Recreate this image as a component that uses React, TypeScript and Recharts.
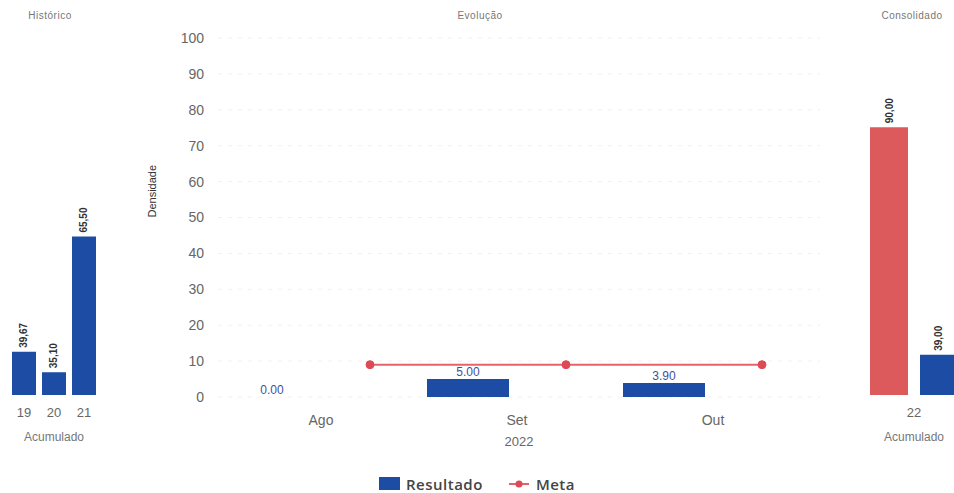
import { BarChart, Bar, ComposedChart, Line, XAxis, YAxis, CartesianGrid, Legend, LabelList } from 'recharts';

const histCats = ['19', '20', '21'];
const histValues = [39.67, 35.1, 65.5];

const months = ['Ago', 'Set', 'Out'];
const resultado = [0, 5.0, 3.9];
const meta = [9, 9, 9];
const yTicks = [0, 10, 20, 30, 40, 50, 60, 70, 80, 90, 100];

const consCats = ['22'];
const consMeta = [90];
const consResultado = [39];

const BLUE = '#1c4ca3';
const RED = '#dc5a5c';
const FONT = '"Liberation Sans", Arial, sans-serif';

const histData = histCats.map((cat, i) => ({ cat, value: histValues[i] }));
const evoData = months.map((mes, i) => ({ mes, resultado: resultado[i], meta: meta[i], pos: i + 0.75 }));
const consData = consCats.map((cat, i) => ({ cat, meta: consMeta[i], resultado: consResultado[i] }));

const comma = (v: number) => v.toFixed(2).replace('.', ',');

// rotated bold value above the bar (Histórico / Consolidado)
const RotLabel = (props: any) => {
    const { x, y, width, value } = props;
    const cx = x + width / 2;
    const cy = y - 4;
    return (
        <text x={cx} y={cy} transform={`rotate(-90 ${cx} ${cy})`} textAnchor="start" dominantBaseline="central"
            fontSize={10} fontWeight="bold" fill="#333">{comma(value)}</text>
    );
};

// value on top of the Resultado bars, drawn even when the bar is 0
const TopLabel = (props: any) => {
    const { x, y, width, value } = props;
    return (
        <text x={Number(x) + Number(width) / 2} y={Number(y) - 3} textAnchor="middle" fontSize={12} fill="#3f4f9f">
            {Number(value).toFixed(2)}
        </text>
    );
};

const EvoLegend = () => (
    <div style={{ display: 'flex', justifyContent: 'center', alignItems: 'center', gap: 26, paddingTop: 25, height: 44, boxSizing: 'border-box', fontFamily: '"Open Sans", sans-serif', fontSize: 15, letterSpacing: 0.5, fontWeight: 600, color: '#444' }}>
        <span style={{ display: 'flex', alignItems: 'center', gap: 6 }}>
            <span style={{ width: 21, height: 13, background: BLUE, display: 'inline-block' }} />Resultado
        </span>
        <span style={{ display: 'flex', alignItems: 'center', gap: 7 }}>
            <svg width={20} height={10}>
                <line x1={0} y1={5} x2={20} y2={5} stroke="#e4636b" strokeWidth={2} />
                <circle cx={10} cy={5} r={3.5} fill="#dc4a55" />
            </svg>Meta
        </span>
    </div>
);

const titleStyle = { position: 'absolute' as const, top: 10, fontSize: 10, letterSpacing: 0.5, color: '#777', transform: 'translateX(-50%)', whiteSpace: 'nowrap' as const };

export default function App() {
    return (
        <div style={{ position: 'absolute', left: 0, top: 0, width: 954, height: 493, overflow: 'hidden', background: '#fff', fontFamily: FONT }}>
            {/* ── Evolução ── */}
            <div style={{ position: 'absolute', left: 0, top: 0 }}>
                <ComposedChart width={954} height={493} data={evoData} margin={{ top: 38, right: 134, left: 0, bottom: 0 }} barCategoryGap={8} barGap={17}>
                    <CartesianGrid xAxisId="cat" vertical={false} stroke="#f0f0f0" strokeDasharray="4 6" />
                    <XAxis xAxisId="cat" dataKey="mes" height={52} padding={{ left: 5, right: 9 }} tickLine={false} axisLine={false} tickMargin={12}
                        tick={{ fontSize: 14, fill: '#666' }}
                        label={{ value: '2022', position: 'insideBottom', offset: 3, fontSize: 13, fill: '#666' }} />
                    <XAxis xAxisId="num" type="number" dataKey="pos" domain={[0, 3]} allowDataOverflow hide padding={{ left: 5, right: 9 }} />
                    <YAxis width={218} domain={[0, 100]} ticks={yTicks} tickLine={false} axisLine={false} tickMargin={8}
                        tick={{ fontSize: 14, fill: '#666' }}
                        label={{ value: 'Densidade', angle: -90, position: 'insideLeft', offset: 152, fontSize: 11, fill: '#333' }} />
                    <Bar xAxisId="cat" dataKey="resultado" fill={BLUE} minPointSize={0.01} isAnimationActive={false}>
                        <LabelList dataKey="resultado" content={<TopLabel />} />
                    </Bar>
                    <Bar xAxisId="cat" dataKey="meta" fill="transparent" legendType="none" isAnimationActive={false} />
                    <Line xAxisId="num" dataKey="meta" stroke="#e4636b" strokeWidth={2} dot={{ r: 4, fill: '#dc4a55', stroke: '#dc4a55', strokeWidth: 1 }} isAnimationActive={false} />
                    <Legend verticalAlign="bottom" height={44} width={954} wrapperStyle={{ left: 0 }} content={<EvoLegend />} />
                </ComposedChart>
            </div>
            <div style={{ ...titleStyle, left: 480 }}>Evolução</div>

            {/* ── Histórico ── */}
            <div style={{ position: 'absolute', left: 0, top: 0 }}>
                <BarChart width={110} height={460} data={histData} margin={{ top: 38, right: 11, left: 9, bottom: 0 }} barCategoryGap={3}>
                    <XAxis dataKey="cat" height={65} tickLine={false} axisLine={false} tickMargin={7} tick={{ fontSize: 13, fill: '#666' }}
                        label={{ value: 'Acumulado', position: 'insideBottom', offset: 19, fontSize: 12, fill: '#777' }} />
                    <YAxis hide domain={[30, 110]} />
                    <Bar dataKey="value" fill={BLUE} isAnimationActive={false} label={<RotLabel />} />
                </BarChart>
            </div>
            <div style={{ ...titleStyle, left: 50 }}>Histórico</div>

            {/* ── Consolidado ── */}
            <div style={{ position: 'absolute', left: 862, top: 0 }}>
                <BarChart width={104} height={460} data={consData} margin={{ top: 38, right: 0, left: 0, bottom: 0 }} barCategoryGap={8} barGap={12}>
                    <XAxis dataKey="cat" height={65} tickLine={false} axisLine={false} tickMargin={7} tick={{ fontSize: 13, fill: '#666' }}
                        label={{ value: 'Acumulado', position: 'insideBottom', offset: 19, fontSize: 12, fill: '#777' }} />
                    <YAxis hide domain={[30, 110]} />
                    <Bar dataKey="meta" fill={RED} isAnimationActive={false} label={<RotLabel />} />
                    <Bar dataKey="resultado" fill={BLUE} isAnimationActive={false} label={<RotLabel />} />
                </BarChart>
            </div>
            <div style={{ ...titleStyle, left: 912 }}>Consolidado</div>
        </div>
    );
}
